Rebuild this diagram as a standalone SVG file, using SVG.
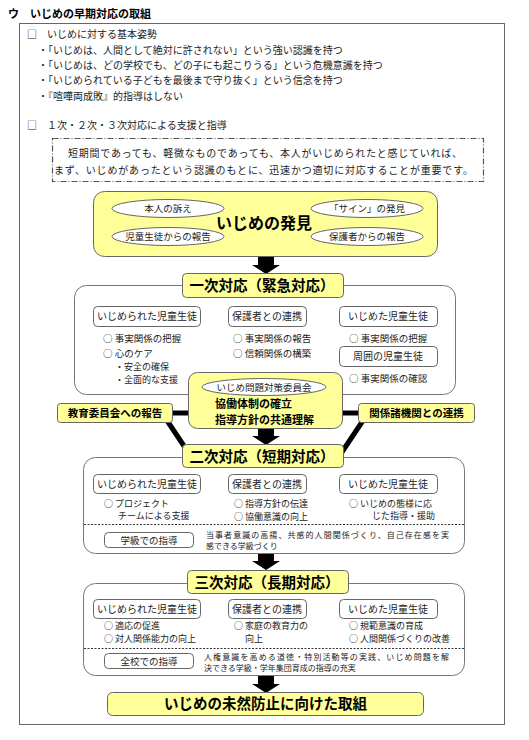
<svg xmlns="http://www.w3.org/2000/svg" width="529" height="740" viewBox="0 0 529 740">
<defs>
<style>
text{font-family:"Noto Sans CJK JP","Noto Sans",sans-serif;fill:#222;}
.t{font-size:10px;}
.s{font-size:9.5px;}
.s9{font-size:9px;}
.xs{font-size:8px;}
.c{text-anchor:middle;}
.b{font-weight:bold;fill:#000;}
.yel{fill:#FFFF99;stroke:#666;stroke-width:1;}
.big{fill:#fff;stroke:#777;stroke-width:1;}
.sub{fill:#fff;stroke:#666;stroke-width:1;}
.ell{fill:#fff;stroke:#666;stroke-width:1;}
.thick{stroke:#000;stroke-width:5;fill:none;}
.dot{stroke:#333;stroke-width:1;stroke-dasharray:2 1.5;}
</style>
<path id="arr" d="M-8,0 H8 V8 H14 L0,17 L-14,8 H-8 Z" fill="#000"/>
</defs>
<rect width="529" height="740" fill="#fff"/>
<text x="8" y="18" class="b" style="font-size:11px">ウ　いじめの早期対応の取組</text>
<rect x="19.5" y="23.5" width="485" height="701" fill="none" stroke="#666"/>
<g id="intro">
<text x="27" y="38" class="t">□　いじめに対する基本姿勢</text>
<text x="38" y="54" class="t">・「いじめは、人間として絶対に許されない」という強い認識を持つ</text>
<text x="38" y="69" class="t">・「いじめは、どの学校でも、どの子にも起こりうる」という危機意識を持つ</text>
<text x="38" y="84" class="t">・「いじめられている子どもを最後まで守り抜く」という信念を持つ</text>
<text x="38" y="100" class="t">・『喧嘩両成敗』的指導はしない</text>
<text x="27" y="129" class="t">□　１次・２次・３次対応による支援と指導</text>
</g>
<g id="note">
<rect x="52.5" y="138.5" width="431" height="43" fill="#fff" stroke="#555" stroke-width="1.2" stroke-dasharray="6 2 1 2"/>
<text x="68" y="157" class="t" textLength="394">短期間であっても、軽微なものであっても、本人がいじめられたと感じていれば、</text>
<text x="54" y="174" class="t" textLength="419">まず、いじめがあったという認識のもとに、迅速かつ適切に対応することが重要です。</text>
</g>
<g id="connectors">
<use href="#arr" x="266" y="257"/>
<use href="#arr" x="266" y="428"/>
<use href="#arr" x="266" y="553"/>
<use href="#arr" x="266" y="676"/>
<line class="thick" x1="172" y1="413" x2="190" y2="413"/>
<line class="thick" x1="341" y1="413" x2="359" y2="413"/>
<line class="thick" x1="166" y1="419" x2="188" y2="452"/>
<line class="thick" x1="364" y1="419" x2="342" y2="452"/>
</g>
<g id="discovery">
<rect class="yel" x="93.5" y="191.5" width="344" height="65" rx="11"/>
<ellipse class="ell" cx="168" cy="208.5" rx="56" ry="9"/>
<text x="168" y="212" class="s c">本人の訴え</text>
<ellipse class="ell" cx="367" cy="208.5" rx="56" ry="9"/>
<text x="367" y="212" class="s c">「サイン」の発見</text>
<ellipse class="ell" cx="168" cy="236.5" rx="56" ry="9"/>
<text x="168" y="240" class="s c">児童生徒からの報告</text>
<ellipse class="ell" cx="367" cy="236.5" rx="56" ry="9"/>
<text x="367" y="240" class="s c">保護者からの報告</text>
<text x="264" y="229" class="b c" style="font-size:16px">いじめの発見</text>
</g>
<g id="first">
<rect class="big" x="74.5" y="285.5" width="381" height="109" rx="12"/>
<rect class="yel" x="182.5" y="273.5" width="161" height="24" rx="4"/>
<text x="262" y="291" class="b c" style="font-size:14.5px">一次対応（緊急対応）</text>
<rect class="sub" x="93.5" y="306.5" width="107" height="20" rx="4"/>
<text x="147" y="320" class="t c">いじめられた児童生徒</text>
<rect class="sub" x="228.5" y="306.5" width="78" height="20" rx="4"/>
<text x="267" y="320" class="t c">保護者との連携</text>
<rect class="sub" x="339.5" y="306.5" width="98" height="20" rx="4"/>
<text x="388" y="320" class="t c">いじめた児童生徒</text>
<text x="103" y="341.5" class="s">○ 事実関係の把握</text>
<text x="103" y="356.5" class="s">○ 心のケア</text>
<text x="115" y="370" class="s9">・安全の確保</text>
<text x="115" y="382.5" class="s9">・全面的な支援</text>
<text x="233" y="341.5" class="s">○ 事実関係の報告</text>
<text x="233" y="356.5" class="s">○ 信頼関係の構築</text>
<text x="349" y="341.5" class="s">○ 事実関係の把握</text>
<rect class="sub" x="339.5" y="346.5" width="98" height="20" rx="4"/>
<text x="388" y="360" class="t c">周囲の児童生徒</text>
<text x="349" y="382" class="s">○ 事実関係の確認</text>
</g>
<g id="committee">
<rect class="yel" x="188.5" y="372.5" width="154" height="56" rx="9"/>
<ellipse class="ell" cx="264" cy="387" rx="62" ry="8.5"/>
<text x="264" y="390.5" class="s c">いじめ問題対策委員会</text>
<text x="215" y="408" class="b" style="font-size:11px">協働体制の確立</text>
<text x="215" y="424" class="b" style="font-size:11px">指導方針の共通理解</text>
</g>
<g id="board">
<rect class="yel" x="57.5" y="403.5" width="115" height="19" rx="3"/>
<text x="115" y="417" class="b c" style="font-size:10.5px">教育委員会への報告</text>
</g>
<g id="agencies">
<rect class="yel" x="358.5" y="403.5" width="116" height="19" rx="3"/>
<text x="416.5" y="417" class="b c" style="font-size:10.5px">関係諸機関との連携</text>
</g>
<g id="second">
<rect class="big" x="83.5" y="457.5" width="381" height="96" rx="12"/>
<rect class="yel" x="182.5" y="444.5" width="161" height="23" rx="4"/>
<text x="262" y="461.5" class="b c" style="font-size:14.5px">二次対応（短期対応）</text>
<rect class="sub" x="93.5" y="474.5" width="107" height="19" rx="4"/>
<text x="147" y="488" class="t c">いじめられた児童生徒</text>
<rect class="sub" x="228.5" y="474.5" width="78" height="19" rx="4"/>
<text x="267" y="488" class="t c">保護者との連携</text>
<rect class="sub" x="339.5" y="474.5" width="98" height="19" rx="4"/>
<text x="388" y="488" class="t c">いじめた児童生徒</text>
<text x="104" y="506.5" class="s9">○ プロジェクト</text>
<text x="118" y="519" class="s9">チームによる支援</text>
<text x="234" y="506.5" class="s9">○ 指導方針の伝達</text>
<text x="234" y="519.5" class="s9">○ 協働意識の向上</text>
<text x="349" y="506.5" class="s9">○ いじめの態様に応</text>
<text x="372" y="519" class="s9">じた指導・援助</text>
<line class="dot" x1="84" y1="524.5" x2="464" y2="524.5"/>
<rect class="sub" x="104.5" y="532.5" width="89" height="15" rx="4"/>
<text x="149" y="543.5" class="s c">学級での指導</text>
<text x="206" y="538" class="xs" textLength="243">当事者意識の高揚、共感的人間関係づくり、自己存在感を実</text>
<text x="206" y="549" class="xs">感できる学級づくり</text>
</g>
<g id="third">
<rect class="big" x="83.5" y="583.5" width="381" height="92" rx="12"/>
<rect class="yel" x="187.5" y="570.5" width="161" height="23" rx="4"/>
<text x="267" y="587.5" class="b c" style="font-size:14.5px">三次対応（長期対応）</text>
<rect class="sub" x="93.5" y="599.5" width="107" height="19" rx="4"/>
<text x="147" y="613" class="t c">いじめられた児童生徒</text>
<rect class="sub" x="228.5" y="599.5" width="78" height="19" rx="4"/>
<text x="267" y="613" class="t c">保護者との連携</text>
<rect class="sub" x="339.5" y="599.5" width="98" height="19" rx="4"/>
<text x="388" y="613" class="t c">いじめた児童生徒</text>
<text x="104" y="629" class="s9">○ 適応の促進</text>
<text x="104" y="642" class="s9">○ 対人関係能力の向上</text>
<text x="234" y="629" class="s9">○ 家庭の教育力の</text>
<text x="245" y="642" class="s9">向上</text>
<text x="349" y="629" class="s9">○ 規範意識の育成</text>
<text x="349" y="642" class="s9">○ 人間関係づくりの改善</text>
<line class="dot" x1="84" y1="648.5" x2="464" y2="648.5"/>
<rect class="sub" x="104.5" y="653.5" width="89" height="15" rx="4"/>
<text x="149" y="664.5" class="s c">全校での指導</text>
<text x="204" y="659.5" class="xs" textLength="245">人権意識を高める道徳・特別活動等の実践、いじめ問題を解</text>
<text x="204" y="670.5" class="xs">決できる学級・学年集団育成の指導の充実</text>
</g>
<g id="prevention">
<rect class="yel" x="107.5" y="692.5" width="316" height="23" rx="5"/>
<text x="265.5" y="709" class="b c" style="font-size:14.5px">いじめの未然防止に向けた取組</text>
</g>
</svg>
